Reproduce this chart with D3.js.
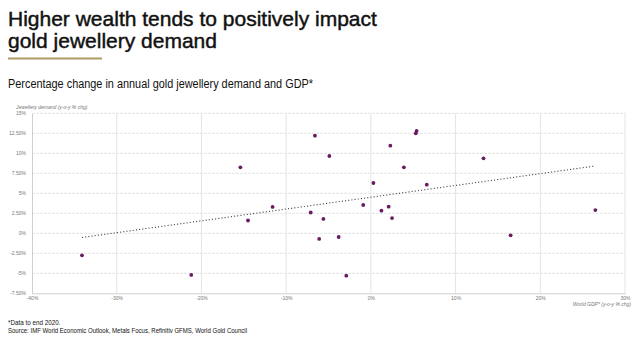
<!DOCTYPE html>
<html>
<head>
<meta charset="utf-8">
<script src="https://cdn.jsdelivr.net/npm/d3@7"></script>
<style>
  body { margin: 0; background: #fff; }
  svg { display: block; font-family: "Liberation Sans", Arial, sans-serif; }
</style>
</head>
<body>
<svg id="drawing_region"></svg>
<script>
// World GDP change (x) vs jewellery demand change (y), % y-o-y
const gdpChange = [-34.1, -21.2, -15.4, -14.5, -11.6, -6.6, -4.9, -7.1, -5.6, -6.1, -3.8, -2.9,
                   -0.9, 0.3, 1.25, 2.1, 2.5, 2.3, 3.9, 5.3, 5.4, 6.6, 13.3, 16.5, 26.5];
const demandChange = [-2.75, -5.2, 8.25, 1.6, 3.3, 12.2, 9.66, 2.6, 1.8, -0.7, -0.46, -5.3,
                      3.54, 6.29, 2.83, 3.33, 1.9, 10.95, 8.25, 12.5, 12.8, 6.08, 9.37, -0.25, 2.9];
const xTicks = [-40, -30, -20, -10, 0, 10, 20, 30];
const yTicks = [-7.5, -5, -2.5, 0, 2.5, 5, 7.5, 10, 12.5, 15];

const width = 640, height = 341;
const svg = d3.select('#drawing_region')
    .attr('width', width)
    .attr('height', height);

const x = d3.scaleLinear().domain([-40, 30]).range([32, 625]);
const y = d3.scaleLinear().domain([-7.5, 15]).range([293.3, 113.3]);

const fmt = v => (Number.isInteger(v) ? v : v.toFixed(2)) + '%';

// titles
['Higher wealth tends to positively impact', 'gold jewellery demand'].forEach((t, i) => {
    svg.append('text').attr('x', 8).attr('y', 25.5 + i * 22)
        .style('font-size', '21px')
        .attr('fill', '#111').attr('stroke', '#111').attr('stroke-width', 0.45)
        .text(t);
});
svg.append('rect').attr('x', 8).attr('y', 57.5).attr('width', 94).attr('height', 2)
    .attr('fill', '#b09a62');
svg.append('text').attr('x', 8).attr('y', 88)
    .attr('textLength', 305).attr('lengthAdjust', 'spacingAndGlyphs')
    .style('font-size', '12.3px').attr('fill', '#111')
    .text('Percentage change in annual gold jewellery demand and GDP*');

// grid
const grid = svg.append('g');
grid.selectAll('.hg').data(yTicks.filter(d => d > -7.5))
    .join('line')
    .attr('x1', 32).attr('x2', 625)
    .attr('y1', d => y(d)).attr('y2', d => y(d))
    .attr('stroke', '#e4e4e4').attr('stroke-width', 1)
    .attr('stroke-dasharray', '3,1');
grid.selectAll('.vg').data(xTicks.filter(d => d > -40))
    .join('line')
    .attr('x1', d => x(d)).attr('x2', d => x(d))
    .attr('y1', y(15)).attr('y2', y(-7.5))
    .attr('stroke', '#e4e4e4').attr('stroke-width', 1);

// axes
const xAxis = svg.append('g').attr('transform', `translate(0,${y(-7.5)})`)
    .call(d3.axisBottom(x).tickValues(xTicks).tickSize(0).tickPadding(3).tickFormat(fmt));
xAxis.select('.domain').attr('stroke', '#cfcfcf');
xAxis.selectAll('text').style('font-size', '5px').attr('fill', '#777');

const yAxis = svg.append('g').attr('transform', `translate(${x(-40)},0)`)
    .call(d3.axisLeft(y).tickValues(yTicks).tickSize(0).tickPadding(6).tickFormat(fmt));
yAxis.select('.domain').attr('stroke', '#cfcfcf');
yAxis.selectAll('text').style('font-size', '5px').attr('fill', '#777');

svg.append('text').attr('x', 16).attr('y', 109)
    .style('font-size', '5px').style('font-style', 'italic').attr('fill', '#777')
    .text('Jewellery demand (y-o-y % chg)');
svg.append('text').attr('x', 631).attr('y', 306).attr('text-anchor', 'end')
    .style('font-size', '5px').style('font-style', 'italic').attr('fill', '#777')
    .text('World GDP* (y-o-y % chg)');

// trend line (least squares)
const pts = gdpChange.map((g, i) => ({gdp: g, dem: demandChange[i]}));
const mx = d3.mean(pts, d => d.gdp), my = d3.mean(pts, d => d.dem);
const slope = d3.sum(pts, d => (d.gdp - mx) * (d.dem - my)) / d3.sum(pts, d => (d.gdp - mx) ** 2);
const icpt = my - slope * mx;
const ext = d3.extent(pts, d => d.gdp);
svg.append('line')
    .attr('x1', x(ext[0])).attr('y1', y(icpt + slope * ext[0]))
    .attr('x2', x(ext[1])).attr('y2', y(icpt + slope * ext[1]))
    .attr('stroke', '#444').attr('stroke-width', 1.1)
    .attr('stroke-dasharray', '1.1,2.1');

// points
svg.append('g').selectAll('circle').data(pts)
    .join('circle')
    .attr('cx', d => x(d.gdp)).attr('cy', d => y(d.dem))
    .attr('r', 1.9)
    .attr('fill', '#6a1a60');

// footnotes
svg.append('text').attr('x', 8).attr('y', 324.5)
    .style('font-size', '6.3px').attr('fill', '#111')
    .text('*Data to end 2020.');
svg.append('text').attr('x', 8).attr('y', 333)
    .attr('textLength', 239).attr('lengthAdjust', 'spacingAndGlyphs')
    .style('font-size', '6.3px').attr('fill', '#111')
    .text('Source: IMF World Economic Outlook, Metals Focus, Refinitiv GFMS, World Gold Council');
</script>
</body>
</html>
